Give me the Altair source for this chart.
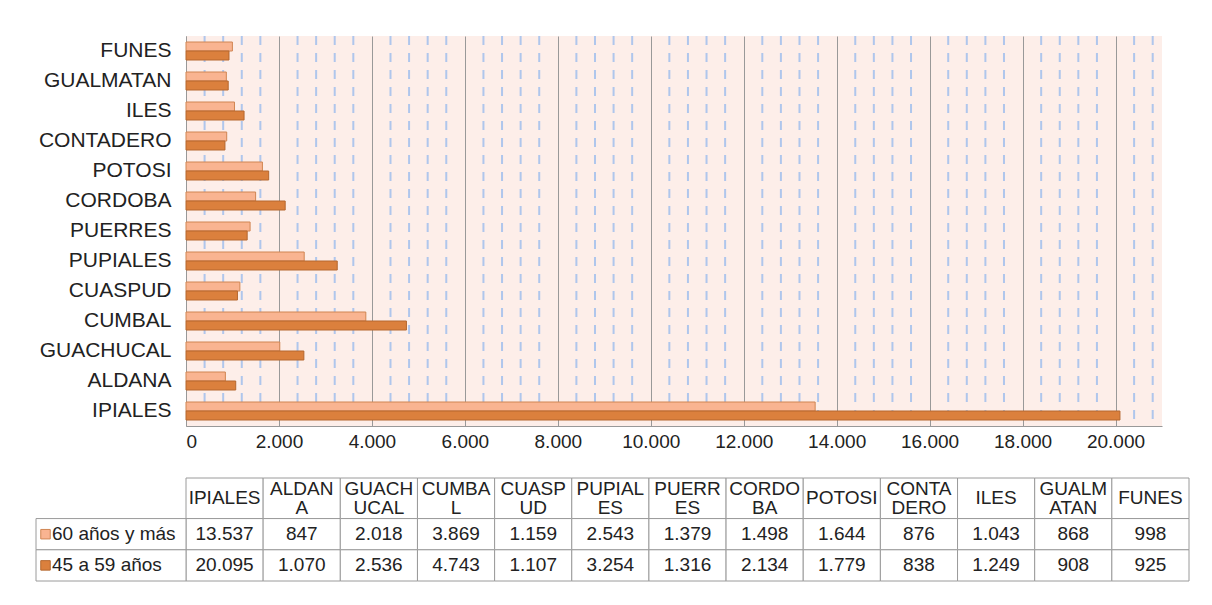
import altair as alt
import pandas as pd

# ---- data ----
MUNICIPIOS = ["IPIALES", "ALDANA", "GUACHUCAL", "CUMBAL", "CUASPUD", "PUPIALES", "PUERRES",
              "CORDOBA", "POTOSI", "CONTADERO", "ILES", "GUALMATAN", "FUNES"]
HEADER_LABELS = ["IPIALES", "ALDAN\nA", "GUACH\nUCAL", "CUMBA\nL", "CUASP\nUD", "PUPIAL\nES",
                 "PUERR\nES", "CORDO\nBA", "POTOSI", "CONTA\nDERO", "ILES", "GUALM\nATAN", "FUNES"]
SERIES = ["60 años y más", "45 a 59 años"]
V60 = [13537, 847, 2018, 3869, 1159, 2543, 1379, 1498, 1644, 876, 1043, 868, 998]
V45 = [20095, 1070, 2536, 4743, 1107, 3254, 1316, 2134, 1779, 838, 1249, 908, 925]
MAJOR_TICKS = [0, 2000, 4000, 6000, 8000, 10000, 12000, 14000, 16000, 18000, 20000]
MINOR_TICKS = [v for v in range(400, 21000, 400) if v % 2000]
X_MAX = 21000

# ---- style ----
FONT = "Liberation Sans"
LIGHT, DARK = "#F9B491", "#DB803D"
LIGHT_S, DARK_S = "#D08552", "#B5672E"
TXT = "#222222"
BORDER = "#9A9A9A"

def fmt(v):
    return f"{v:,}".replace(",", ".")

rows = []
for i, m in enumerate(MUNICIPIOS):
    rows.append({"municipio": m, "serie": SERIES[0], "valor": V60[i]})
    rows.append({"municipio": m, "serie": SERIES[1], "valor": V45[i]})
long = pd.DataFrame(rows)

y_order = MUNICIPIOS[::-1]

x_axis = alt.Axis(title=None, values=MAJOR_TICKS, grid=True, gridColor="#999999",
                  gridWidth=1, ticks=False, domainColor="#999999",
                  labelExpr="replace(format(datum.value, ','), ',', '.')",
                  labelFontSize=19, labelFont=FONT, labelColor=TXT, labelPadding=6)
x_scale = alt.Scale(domain=[0, X_MAX], nice=False)

bars = alt.Chart(long).mark_bar(strokeWidth=1).encode(
    y=alt.Y("municipio:N", sort=y_order,
            scale=alt.Scale(paddingInner=0.4, paddingOuter=0.2),
            axis=alt.Axis(title=None, labelFontSize=21, labelPadding=15, ticks=False,
                          domainColor="#999999", labelColor=TXT, labelFont=FONT)),
    yOffset=alt.YOffset("serie:N", sort=SERIES),
    x=alt.X("valor:Q", scale=x_scale, axis=x_axis),
    color=alt.Color("serie:N", scale=alt.Scale(domain=SERIES, range=[LIGHT, DARK]), legend=None),
    stroke=alt.Stroke("serie:N", scale=alt.Scale(domain=SERIES, range=[LIGHT_S, DARK_S]), legend=None),
)

minor = alt.Chart(pd.DataFrame({"v": MINOR_TICKS})).mark_rule(
    strokeDash=[9, 8], strokeWidth=2, color="#AFC6EC"
).encode(x=alt.X("v:Q", scale=x_scale, axis=x_axis))

bar_chart = alt.layer(minor, bars).properties(
    width=976, height=390,
    view=alt.ViewBackground(fill="#FDEEE9", stroke=None),
)

# ---- table ----
LEG_LEFT = -1.944
H_TOP, H_BOT = 0.0, 1.3
ROW_EDGES = [(1.3, 2.3), (2.3, 3.3)]

cells = []
for i in range(len(MUNICIPIOS)):
    cells.append({"x0": i, "x1": i + 1, "y0": H_TOP, "y1": H_BOT})
    for (a, b) in ROW_EDGES:
        cells.append({"x0": i, "x1": i + 1, "y0": a, "y1": b})
for (a, b) in ROW_EDGES:
    cells.append({"x0": LEG_LEFT, "x1": 0, "y0": a, "y1": b})
cells = pd.DataFrame(cells)

xs = alt.Scale(domain=[0, len(MUNICIPIOS)], nice=False, zero=False)
ys = alt.Scale(domain=[0, 3.3], nice=False, zero=False, reverse=True)

rect = alt.Chart(cells).mark_rect(fill="white", stroke=BORDER, strokeWidth=1).encode(
    x=alt.X("x0:Q", scale=xs, axis=None), x2="x1:Q",
    y=alt.Y("y0:Q", scale=ys, axis=None), y2="y1:Q",
)

hdr = pd.DataFrame({"x": [i + 0.5 for i in range(len(MUNICIPIOS))],
                    "y": [(H_TOP + H_BOT) / 2] * len(MUNICIPIOS),
                    "t": HEADER_LABELS,
                    "multi": ["\n" in h for h in HEADER_LABELS]})
hdr_one = alt.Chart(hdr).transform_filter("!datum.multi").mark_text(
    font=FONT, fontSize=19, color=TXT, baseline="middle").encode(
    x=alt.X("x:Q", scale=xs, axis=None), y=alt.Y("y:Q", scale=ys, axis=None), text="t:N")
hdr_two = alt.Chart(hdr).transform_filter("datum.multi").mark_text(
    font=FONT, fontSize=19, color=TXT, baseline="middle", lineBreak="\n",
    lineHeight=19, dy=-9.5).encode(
    x=alt.X("x:Q", scale=xs, axis=None), y=alt.Y("y:Q", scale=ys, axis=None), text="t:N")

vals = []
for s, series_vals, (a, b) in zip(SERIES, [V60, V45], ROW_EDGES):
    for i, v in enumerate(series_vals):
        vals.append({"x": i + 0.5, "y": (a + b) / 2, "t": fmt(v)})
vals = pd.DataFrame(vals)
val_text = alt.Chart(vals).mark_text(font=FONT, fontSize=19, color=TXT, baseline="middle").encode(
    x=alt.X("x:Q", scale=xs, axis=None), y=alt.Y("y:Q", scale=ys, axis=None), text="t:N")

leg = pd.DataFrame({"serie": SERIES,
                    "xs": [-1.821, -1.821], "xt": [-1.737, -1.737],
                    "y": [(a + b) / 2 for (a, b) in ROW_EDGES]})
leg_sw = alt.Chart(leg).mark_point(shape="square", size=90, filled=True, opacity=1,
                                   strokeWidth=1).encode(
    x=alt.X("xs:Q", scale=xs, axis=None), y=alt.Y("y:Q", scale=ys, axis=None),
    fill=alt.Fill("serie:N", scale=alt.Scale(domain=SERIES, range=[LIGHT, DARK]), legend=None),
    stroke=alt.Stroke("serie:N", scale=alt.Scale(domain=SERIES, range=[LIGHT_S, DARK_S]), legend=None),
)
leg_text = alt.Chart(leg).mark_text(font=FONT, fontSize=19, color=TXT, baseline="middle",
                                    align="left").encode(
    x=alt.X("xt:Q", scale=xs, axis=None), y=alt.Y("y:Q", scale=ys, axis=None), text="serie:N")

table = alt.layer(rect, hdr_one, hdr_two, val_text, leg_sw, leg_text).resolve_scale(
    fill="independent", stroke="independent"
).properties(width=1003, height=103, view=alt.ViewBackground(fill=None, stroke=None))

chart = alt.vconcat(bar_chart, table, spacing=26).properties(
    padding={"left": 27, "top": 27, "right": 5, "bottom": 5},
    background="white",
).configure_view(stroke=None)

chart.save("out.html", embed_options={"renderer": "svg", "actions": False})
